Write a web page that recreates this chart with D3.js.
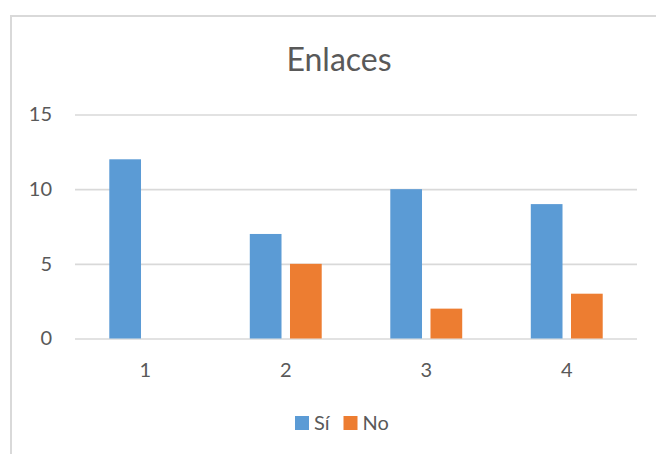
<!DOCTYPE html>
<html>
<head>
<meta charset="utf-8">
<script src="https://cdn.jsdelivr.net/npm/d3@7"></script>
<style>
  html, body { margin: 0; padding: 0; background: #fff; }
  svg { display: block; font-family: Lato, "Open Sans", sans-serif; }
</style>
</head>
<body>
<svg id="chart" width="656" height="454"></svg>
<script>
// Chart data
const categories = ["1", "2", "3", "4"];
const seriesNames = ["Sí", "No"];
const siValues = [12, 7, 10, 9];
const noValues = [0, 5, 2, 3];
const yTicks = [0, 5, 10, 15];
const colors = ["#5b9bd5", "#ed7d31"];
const title = "Enlaces";

const svg = d3.select("#chart");
const W = 656, H = 454;

// Chart frame (continues past the right and bottom edges)
svg.append("rect")
  .attr("x", 11).attr("y", 16)
  .attr("width", W + 20).attr("height", H + 20)
  .attr("fill", "#fff")
  .attr("stroke", "#d9d9d9").attr("stroke-width", 2);

const plot = { left: 75, right: 637, top: 114.5, bottom: 338.5 };

const x0 = d3.scaleBand()
  .domain(categories)
  .range([plot.left, plot.right])
  .padding(0);

const x1 = d3.scaleBand()
  .domain(seriesNames)
  .range([0, x0.bandwidth()])
  .paddingInner(0.211)
  .paddingOuter(0.853);

const y = d3.scaleLinear()
  .domain([0, 15])
  .range([plot.bottom, plot.top]);

// Y axis with gridlines
const yAxis = svg.append("g")
  .attr("transform", `translate(${plot.left},0)`)
  .call(d3.axisLeft(y).tickValues(yTicks)
    .tickSize(-(plot.right - plot.left)).tickPadding(23));
yAxis.select(".domain").remove();
yAxis.selectAll(".tick line").attr("stroke", "#d9d9d9").attr("stroke-width", 1.6);
yAxis.selectAll(".tick text")
  .attr("fill", "#595959").style("font-size", "20px")
  .style("font-family", "Lato, 'Open Sans', sans-serif");

// X axis labels
const xAxis = svg.append("g")
  .attr("transform", `translate(0,${plot.bottom})`)
  .call(d3.axisBottom(x0).tickSize(0).tickPadding(24));
xAxis.select(".domain").remove();
xAxis.selectAll(".tick text")
  .attr("fill", "#595959").style("font-size", "20px")
  .style("font-family", "Lato, 'Open Sans', sans-serif");

// Bars
const rows = categories.map((c, i) => ({ cat: c, vals: [siValues[i], noValues[i]] }));
const groups = svg.append("g").selectAll("g")
  .data(rows).join("g")
  .attr("transform", d => `translate(${x0(d.cat)},0)`);

groups.selectAll("rect")
  .data(d => d.vals.map((v, j) => ({ name: seriesNames[j], v, j })))
  .join("rect")
  .attr("x", d => x1(d.name))
  .attr("width", x1.bandwidth())
  .attr("y", d => y(d.v))
  .attr("height", d => y(0) - y(d.v))
  .attr("fill", d => colors[d.j]);

// Title
svg.append("text")
  .attr("x", 339).attr("y", 71)
  .attr("text-anchor", "middle")
  .attr("fill", "#595959")
  .style("font-size", "32px")
  .text(title);

// Legend
const legendX = [295, 343.5];
const legend = svg.append("g").selectAll("g")
  .data(seriesNames).join("g")
  .attr("transform", (d, i) => `translate(${legendX[i]},416)`);
legend.append("rect")
  .attr("width", 14).attr("height", 14)
  .attr("fill", (d, i) => colors[i]);
legend.append("text")
  .attr("x", 19).attr("y", 14)
  .attr("fill", "#595959")
  .style("font-size", "20px")
  .text(d => d);
</script>
</body>
</html>
